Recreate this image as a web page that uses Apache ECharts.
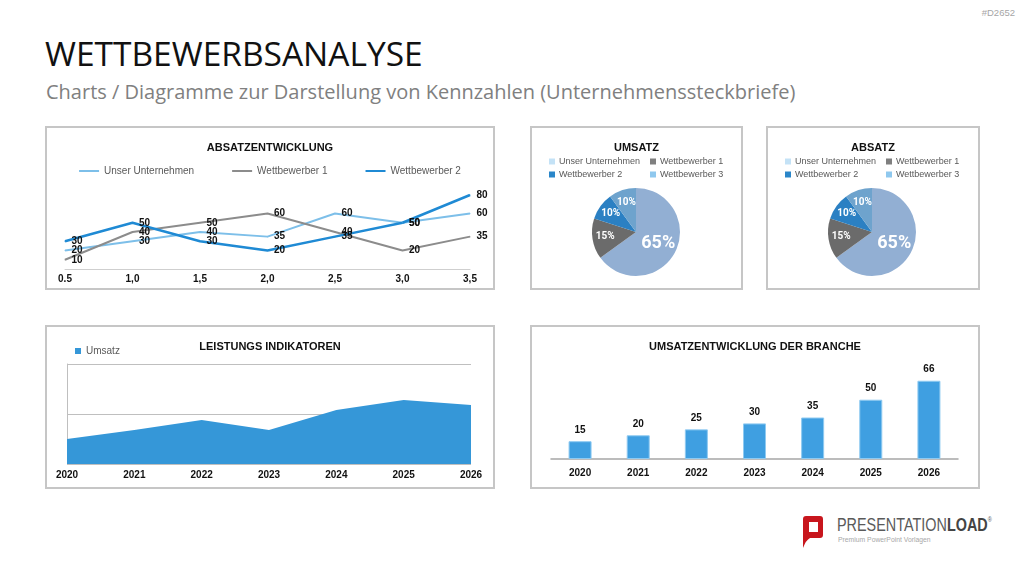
<!DOCTYPE html>
<html>
<head>
<meta charset="utf-8">
<title>Wettbewerbsanalyse</title>
<script src="https://cdn.jsdelivr.net/npm/echarts@6/dist/echarts.min.js"></script>
<style>
  body {
    margin: 0;
    width: 1024px;
    height: 576px;
    background: #fff;
    position: relative;
    overflow: hidden;
    font-family: "Open Sans", sans-serif;
  }
  .headline {
    position: absolute;
    left: 45px;
    top: 37px;
    font-size: 33.5px;
    line-height: 1;
    color: #111;
    white-space: nowrap;
  }
  .subline {
    position: absolute;
    left: 46px;
    top: 82px;
    font-size: 20px;
    line-height: 1;
    color: #808080;
    white-space: nowrap;
  }
  .code {
    position: absolute;
    right: 9px;
    top: 7px;
    font-size: 9.5px;
    color: #a6a6a6;
    font-family: "Liberation Sans", sans-serif;
  }
  .panel {
    position: absolute;
    border: 2px solid #c6c6c6;
    box-sizing: border-box;
  }
  .chart {
    position: absolute;
    left: 0;
    top: 0;
    right: 0;
    bottom: 0;
  }
  .brand {
    position: absolute;
    left: 837px;
    top: 516px;
    font-family: "Liberation Sans", sans-serif;
    font-size: 18px;
    line-height: 1;
    color: #5a5a5a;
    white-space: nowrap;
    transform: scaleX(0.8);
    transform-origin: left top;
  }
  .brand b { color: #444; }
  .brand sup { font-size: 7px; vertical-align: top; }
  .brand-sub {
    position: absolute;
    left: 838px;
    top: 535px;
    font-family: "Liberation Sans", sans-serif;
    font-size: 8px;
    color: #a8a8a8;
    white-space: nowrap;
    transform: scaleX(0.85);
    transform-origin: left top;
  }
</style>
</head>
<body>
<div class="code">#D2652</div>
<div class="headline">WETTBEWERBSANALYSE</div>
<div class="subline">Charts / Diagramme zur Darstellung von Kennzahlen (Unternehmenssteckbriefe)</div>

<div class="panel" style="left:45px;top:126px;width:450px;height:164px"><div class="chart" id="absatzLine"></div></div>
<div class="panel" style="left:530px;top:126px;width:213px;height:164px"><div class="chart" id="umsatzPie"></div></div>
<div class="panel" style="left:766px;top:126px;width:214px;height:164px"><div class="chart" id="absatzPie"></div></div>
<div class="panel" style="left:45px;top:325px;width:450px;height:164px"><div class="chart" id="leistungArea"></div></div>
<div class="panel" style="left:530px;top:325px;width:450px;height:164px"><div class="chart" id="brancheBar"></div></div>

<svg style="position:absolute;left:802px;top:516px" width="22" height="33" viewBox="0 0 22 33">
  <path d="M4 0 H18 Q21 0 21 3 V19 Q21 22 18 22 H8 Q4 24 1 32 V3 Q1 0 4 0 Z" fill="#c8161d"/>
  <rect x="7" y="6" width="9" height="10" fill="#fff"/>
</svg>
<div class="brand">PRESENTATION<b>LOAD</b><sup>®</sup></div>
<div class="brand-sub">Premium PowerPoint Vorlagen</div>

<script>
// Absatzentwicklung
const lineCategories = ["0.5", "1,0", "1,5", "2,0", "2,5", "3,0", "3,5"];
const lineNames = ["Unser Unternehmen", "Wettbewerber 1", "Wettbewerber 2"];
const unserUnternehmen = [20, 30, 40, 35, 60, 50, 60];
const wettbewerber1 = [10, 40, 50, 60, 40, 20, 35];
const wettbewerber2 = [30, 50, 30, 20, 35, 50, 80];

// Umsatz / Absatz (Anteile in %)
const pieNames = ["Unser Unternehmen", "Wettbewerber 1", "Wettbewerber 2", "Wettbewerber 3"];
const umsatzShares = [65, 15, 10, 10];
const absatzShares = [65, 15, 10, 10];

// Leistungs Indikatoren + Branche
const years = ["2020", "2021", "2022", "2023", "2024", "2025", "2026"];
const leistungUmsatz = [25, 34, 44, 34, 54, 64, 59];
const brancheUmsatz = [15, 20, 25, 30, 35, 50, 66];

const FONT = "Liberation Sans";
const PIE_FONT = "Roboto";

const titleStyle = (text, top) => ({
  text: text,
  left: "center",
  top: top,
  textStyle: { fontFamily: FONT, fontSize: 11, fontWeight: "bold", color: "#111" },
});

const boldAxisLabel = (margin) => ({
  fontFamily: FONT,
  fontSize: 10,
  fontWeight: "bold",
  color: "#111",
  margin: margin,
});

// --- line chart ---
const lineColors = ["#7dbfe9", "#8c8c8c", "#1f8ad4"];
const lineValues = [unserUnternehmen, wettbewerber1, wettbewerber2];

const lineChart = echarts.init(document.getElementById("absatzLine"));
lineChart.setOption({
  animation: false,
  title: titleStyle("ABSATZENTWICKLUNG", 9),
  legend: {
    top: 38,
    left: "center",
    padding: 0,
    icon: "rect",
    itemWidth: 20,
    itemHeight: 2,
    itemGap: 38,
    data: lineNames,
    textStyle: { fontFamily: FONT, fontSize: 10, color: "#595959" },
  },
  grid: { left: 18, right: 23, top: 67, bottom: 19 },
  xAxis: {
    type: "category",
    data: lineCategories,
    boundaryGap: false,
    axisLine: { lineStyle: { color: "#cfcfcf" } },
    axisTick: { show: false },
    axisLabel: boldAxisLabel(5),
  },
  yAxis: {
    type: "value",
    min: 0,
    max: 80,
    show: false,
  },
  series: lineNames.map((name, i) => ({
    name: name,
    type: "line",
    data: lineValues[i],
    symbol: "circle",
    symbolSize: 1,
    lineStyle: { width: i === 2 ? 2.5 : 2, color: lineColors[i] },
    itemStyle: { color: lineColors[i] },
    label: {
      show: true,
      position: "right",
      distance: 6,
      fontFamily: FONT,
      fontSize: 10,
      fontWeight: "bold",
      color: "#111",
    },
  })),
});

// --- pies ---
const pieSliceColors = ["#92afd3", "#6b6b6b", "#2b80c3", "#6ea3cd"];
const pieLegendColors = ["#c4e2f6", "#7f7f7f", "#2a86c9", "#8fc8ee"];
const legendSpots = [
  { left: 17, top: 29 },
  { left: 118, top: 29 },
  { left: 17, top: 42 },
  { left: 118, top: 42 },
];
const PIE_CENTER = [104, 104];

const buildPie = (el, title, shares) => {
  const chart = echarts.init(document.getElementById(el));
  chart.setOption({
    animation: false,
    title: titleStyle(title, 9),
    legend: pieNames.map((name, i) => ({
      left: legendSpots[i].left,
      top: legendSpots[i].top,
      padding: 0,
      icon: "rect",
      itemWidth: 6,
      itemHeight: 6,
      itemGap: 0,
      data: [{ name: name, itemStyle: { color: pieLegendColors[i] } }],
      textStyle: { fontFamily: FONT, fontSize: 9, color: "#595959", padding: [0, 0, 0, -1] },
    })),
    series: [
      {
        type: "pie",
        center: PIE_CENTER,
        radius: 44,
        startAngle: 90,
        clockwise: true,
        data: pieNames.map((name, i) => ({
          name: name,
          value: shares[i],
          itemStyle: { color: pieSliceColors[i] },
          label: i === 0 ? { fontSize: 18 } : {},
        })),
        label: {
          show: true,
          position: "inside",
          formatter: "{c}%",
          fontFamily: PIE_FONT,
          fontWeight: "bold",
          fontSize: 10,
          color: "#fff",
        },
        // small slices: push labels a little towards the rim
        labelLayout: (params) => {
          if (params.dataIndex === 0) return { hideOverlap: false };
          const r = params.labelRect;
          const cx = r.x + r.width / 2 - PIE_CENTER[0];
          const cy = r.y + r.height / 2 - PIE_CENTER[1];
          return { dx: cx * 0.25, dy: cy * 0.25, hideOverlap: false };
        },
        labelLine: { show: false },
      },
    ],
  });
  return chart;
};

const umsatzPie = buildPie("umsatzPie", "UMSATZ", umsatzShares);
const absatzPie = buildPie("absatzPie", "ABSATZ", absatzShares);

// --- area chart ---
const areaChart = echarts.init(document.getElementById("leistungArea"));
areaChart.setOption({
  animation: false,
  title: titleStyle("LEISTUNGS INDIKATOREN", 9),
  legend: {
    left: 28,
    top: 19,
    padding: 0,
    icon: "rect",
    itemWidth: 6,
    itemHeight: 6,
    itemGap: 0,
    data: ["Umsatz"],
    textStyle: { fontFamily: FONT, fontSize: 10, color: "#595959" },
  },
  grid: { left: 20, right: 22, top: 37, bottom: 23 },
  xAxis: {
    type: "category",
    data: years,
    boundaryGap: false,
    axisLine: { show: false },
    axisTick: { show: false },
    axisLabel: boldAxisLabel(6),
  },
  yAxis: {
    type: "value",
    min: 0,
    max: 100,
    interval: 50,
    axisLine: { show: true, lineStyle: { color: "#bfbfbf" } },
    axisLabel: { show: false },
    axisTick: { show: false },
    splitLine: { lineStyle: { color: "#bfbfbf" } },
  },
  series: [
    {
      name: "Umsatz",
      type: "line",
      data: leistungUmsatz,
      symbol: "none",
      lineStyle: { width: 0 },
      itemStyle: { color: "#3597d8" },
      areaStyle: { color: "#3597d8", opacity: 1 },
    },
  ],
});

// --- bar chart ---
const barChart = echarts.init(document.getElementById("brancheBar"));
barChart.setOption({
  animation: false,
  title: titleStyle("UMSATZENTWICKLUNG DER BRANCHE", 9),
  grid: { left: 19, right: 20, top: 49, bottom: 28 },
  xAxis: {
    type: "category",
    data: years,
    axisLine: { lineStyle: { color: "#a6a6a6", width: 1.5 } },
    axisTick: { show: false },
    axisLabel: boldAxisLabel(9),
  },
  yAxis: {
    type: "value",
    min: 0,
    max: 70,
    show: false,
  },
  series: [
    {
      type: "bar",
      data: brancheUmsatz,
      barWidth: 23,
      itemStyle: { color: "#3f9fe1", borderColor: "#8fcaf1", borderWidth: 1 },
      label: {
        show: true,
        position: "top",
        distance: 6,
        fontFamily: FONT,
        fontSize: 10,
        fontWeight: "bold",
        color: "#111",
      },
    },
  ],
});
</script>
</body>
</html>
